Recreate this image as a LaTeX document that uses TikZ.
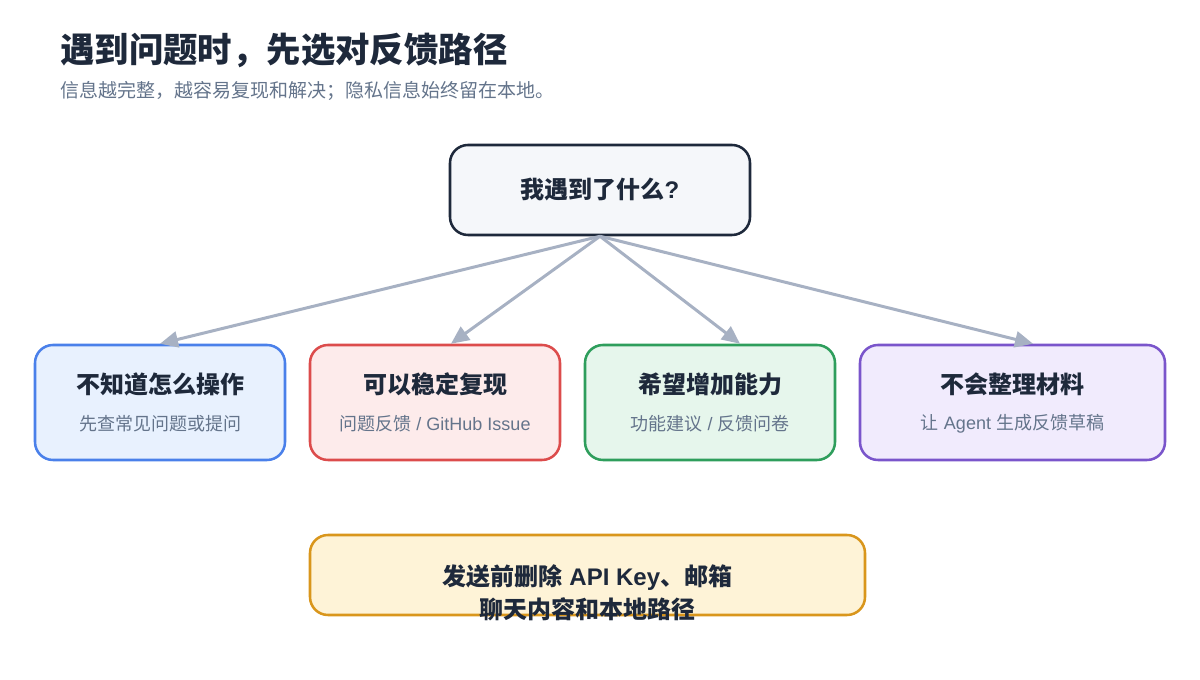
\documentclass[tikz,border=0pt]{standalone}
\usepackage{fontspec}
\setmainfont{Noto Sans CJK SC}
\newfontfamily\latinfont{Liberation Sans}
\usetikzlibrary{arrows.meta}

\definecolor{ink}{HTML}{1E293B}
\definecolor{muted}{HTML}{64748B}
\definecolor{linkgray}{HTML}{A7B1C3}
\definecolor{topfill}{HTML}{F5F7FA}
\definecolor{bluefill}{HTML}{E8F1FE}
\definecolor{bluedraw}{HTML}{4A80EA}
\definecolor{redfill}{HTML}{FDEBEB}
\definecolor{reddraw}{HTML}{DC4C4C}
\definecolor{greenfill}{HTML}{E6F6EC}
\definecolor{greendraw}{HTML}{2E9E5C}
\definecolor{purplefill}{HTML}{F1EBFD}
\definecolor{purpledraw}{HTML}{7A55CB}
\definecolor{amberfill}{HTML}{FEF3D7}
\definecolor{amberdraw}{HTML}{D9961C}

\newcommand{\lat}[1]{{\latinfont #1}}

\begin{document}
\begin{tikzpicture}[x=0.75pt, y=-0.75pt,
  box/.style={draw, rounded corners=13.5pt, line width=1.9pt, inner sep=0pt,
    minimum width=187.5pt, minimum height=86.25pt},
  headline/.style={font=\bfseries\fontsize{18}{22}\selectfont, text=ink, inner sep=0pt},
  hint/.style={font=\fontsize{13.5}{16}\selectfont, text=muted, inner sep=0pt},
  link/.style={draw=linkgray, line width=2.25pt, -{Triangle[length=13.5pt, width=12pt]}}]
  \useasboundingbox (0,0) rectangle (1200,680);

  % Heading
  \node[anchor=west, inner sep=0pt, text=ink, font=\bfseries\fontsize{25.8}{30}\selectfont]
    (title) at (60,50) {遇到问题时，先选对反馈路径};
  \node[anchor=west, inner sep=0pt, text=muted, font=\fontsize{14.25}{17}\selectfont]
    (subtitle) at (60,91) {信息越完整，越容易复现和解决；隐私信息始终留在本地。};

  % Question box
  \node[box, draw=ink, fill=topfill, minimum width=225pt, minimum height=67.5pt]
    (top) at (600,190) {};
  \node[headline] (toptext) at (top.center) {我遇到了什么\lat{?}};

  % Four choices
  \node[box, draw=bluedraw, fill=bluefill] (howto) at (160,402.5) {};
  \node[box, draw=reddraw, fill=redfill] (repro) at (435,402.5) {};
  \node[box, draw=greendraw, fill=greenfill] (idea) at (710,402.5) {};
  \node[box, draw=purpledraw, fill=purplefill, minimum width=228.75pt] (draft) at (1012.5,402.5) {};

  \node[headline] (howtotitle) at (160,384) {不知道怎么操作};
  \node[hint] (howtohint) at (160,424) {先查常见问题或提问};
  \node[headline] (reprotitle) at (435,384) {可以稳定复现};
  \node[hint] (reprohint) at (435,424) {问题反馈\lat{ / GitHub Issue}};
  \node[headline] (ideatitle) at (710,384) {希望增加能力};
  \node[hint] (ideahint) at (710,424) {功能建议\lat{ / }反馈问卷};
  \node[headline] (drafttitle) at (1012.5,384) {不会整理材料};
  \node[hint] (drafthint) at (1012.5,424) {让\lat{ Agent }生成反馈草稿};

  % Arrows from the question
  \draw[link] (top.south) -- (howto.north);
  \draw[link] (top.south) -- ([xshift=12pt]repro.north);
  \draw[link] (top.south) -- ([xshift=22.5pt]idea.north);
  \draw[link] (top.south) -- ([xshift=15.4pt]draft.north);

  % Privacy note
  \node[box, draw=amberdraw, fill=amberfill, minimum width=416.25pt, minimum height=60pt]
    (privacy) at (587.5,575) {};
  \node[headline, align=center, font=\bfseries\fontsize{18}{24.75}\selectfont]
    (privacytext) at (587.5,592.5) {发送前删除\lat{ API Key}、邮箱\\聊天内容和本地路径};
\end{tikzpicture}
\end{document}
